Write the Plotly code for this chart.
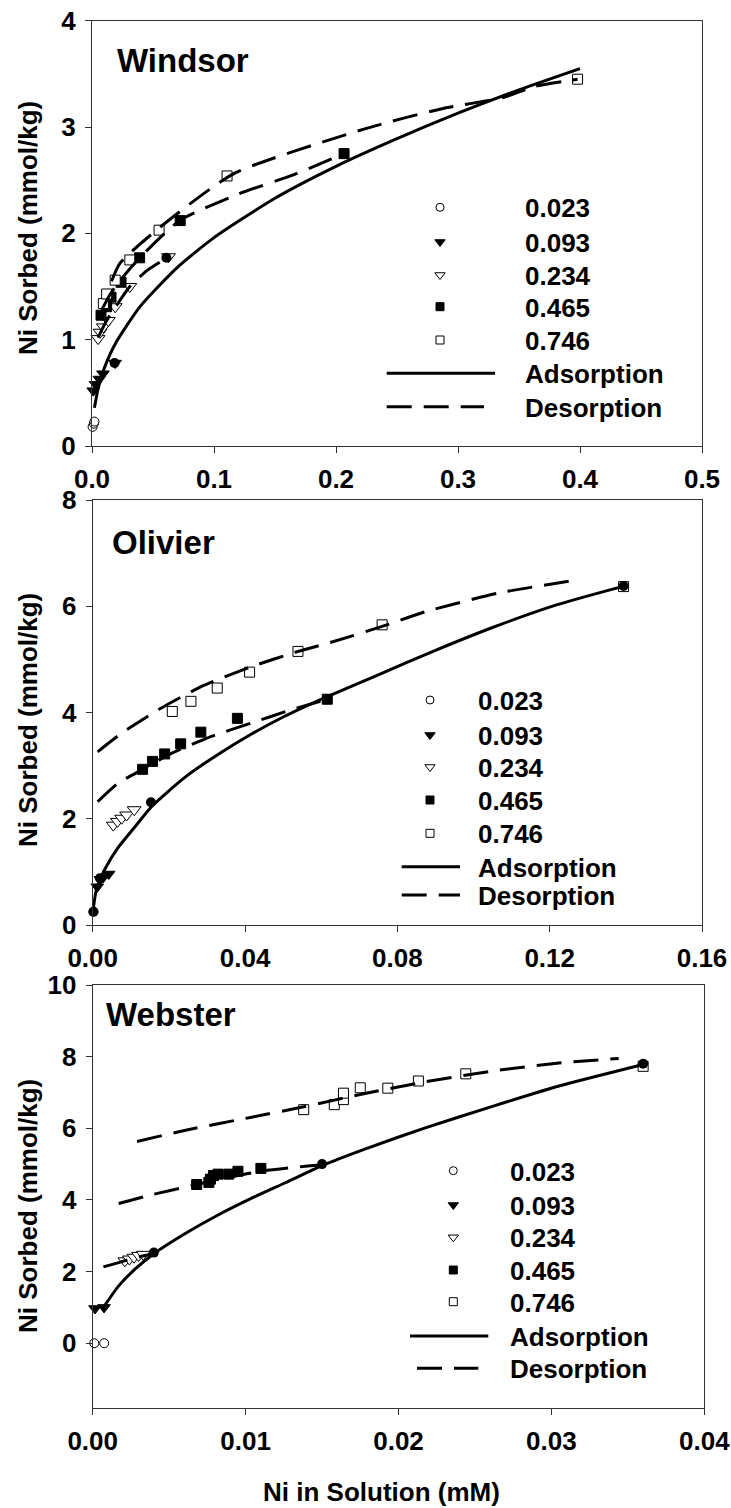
import plotly.graph_objects as go

W, H = 731, 1508
FONT = "Liberation Sans, Arial, Helvetica, sans-serif"

# Initial Ni concentrations shown in the key
levels = ["0.023", "0.093", "0.234", "0.465", "0.746"]

# ---------------- Windsor ----------------
windsor_x_023 = [0.0005, 0.0015, 0.002]
windsor_y_023 = [0.18, 0.21, 0.23]
windsor_x_093 = [0.001, 0.003, 0.006, 0.009, 0.019]
windsor_y_093 = [0.52, 0.58, 0.63, 0.68, 0.78]
windsor_x_234 = [0.005, 0.0066, 0.0093, 0.0134, 0.019, 0.031, 0.0627]
windsor_y_234 = [1.01, 1.07, 1.12, 1.18, 1.31, 1.50, 1.78]
windsor_x_465 = [0.0074, 0.012, 0.0156, 0.0238, 0.039, 0.0723, 0.2066]
windsor_y_465 = [1.23, 1.31, 1.40, 1.54, 1.77, 2.12, 2.75]
windsor_x_746 = [0.0093, 0.012, 0.019, 0.031, 0.055, 0.1107, 0.398]
windsor_y_746 = [1.34, 1.43, 1.56, 1.75, 2.03, 2.54, 3.45]
windsor_ads_pts_x = [0.0185, 0.061, 0.2066]
windsor_ads_pts_y = [0.78, 1.77, 2.75]
windsor_ads_x = [0.002, 0.005, 0.01, 0.02, 0.04, 0.07, 0.1, 0.15, 0.2, 0.25, 0.3, 0.35, 0.4]
windsor_ads_y = [0.36, 0.54, 0.73, 0.98, 1.32, 1.68, 1.96, 2.33, 2.63, 2.89, 3.13, 3.35, 3.55]
windsor_des746_x = [0.016, 0.023, 0.056, 0.116, 0.2257, 0.286, 0.3378, 0.362, 0.398]
windsor_des746_y = [1.55, 1.72, 2.06, 2.56, 2.99, 3.17, 3.28, 3.38, 3.45]
windsor_des465_x = [0.008, 0.015, 0.024, 0.04, 0.072, 0.12, 0.165, 0.2066]
windsor_des465_y = [1.28, 1.43, 1.57, 1.78, 2.12, 2.37, 2.55, 2.75]
windsor_des234_x = [0.005, 0.012, 0.02, 0.031, 0.045, 0.0627]
windsor_des234_y = [1.02, 1.18, 1.32, 1.50, 1.65, 1.78]

# ---------------- Olivier ----------------
olivier_x_023 = [0.0002]
olivier_y_023 = [0.25]
olivier_x_093 = [0.0012, 0.002, 0.0028, 0.0042]
olivier_y_093 = [0.72, 0.86, 0.90, 0.96]
olivier_x_234 = [0.0054, 0.0065, 0.0076, 0.0089, 0.0109]
olivier_y_234 = [1.88, 1.95, 2.01, 2.07, 2.17]
olivier_x_465 = [0.0131, 0.0157, 0.0189, 0.0231, 0.0284, 0.038, 0.0616]
olivier_y_465 = [2.93, 3.08, 3.22, 3.41, 3.63, 3.89, 4.25]
olivier_x_746 = [0.0209, 0.0258, 0.0327, 0.0412, 0.0539, 0.076, 0.1394]
olivier_y_746 = [4.02, 4.21, 4.46, 4.76, 5.15, 5.65, 6.37]
olivier_ads_pts_x = [0.0002, 0.0019, 0.0153, 0.0616, 0.1394]
olivier_ads_pts_y = [0.25, 0.88, 2.31, 4.25, 6.38]
olivier_ads_x = [0.0002, 0.001, 0.0032, 0.0067, 0.011, 0.0155, 0.0242, 0.0329, 0.0416,
                 0.0504, 0.0616, 0.075, 0.09, 0.105, 0.122, 0.139]
olivier_ads_y = [0.33, 0.68, 1.05, 1.46, 1.84, 2.23, 2.78, 3.21, 3.59,
                 3.93, 4.30, 4.71, 5.17, 5.60, 6.03, 6.37]
olivier_des746_x = [0.0013, 0.0076, 0.0172, 0.0286, 0.0416, 0.0539, 0.0635, 0.076, 0.0875, 0.1067, 0.1276]
olivier_des746_y = [3.26, 3.61, 4.05, 4.49, 4.86, 5.15, 5.34, 5.62, 5.90, 6.25, 6.50]
olivier_des465_x = [0.0013, 0.0067, 0.0131, 0.0207, 0.0312, 0.0416, 0.0521, 0.0616]
olivier_des465_y = [2.32, 2.67, 2.93, 3.23, 3.55, 3.80, 4.05, 4.25]

# ---------------- Webster ----------------
webster_x_023 = [0.0001, 0.00075]
webster_y_023 = [0.0, 0.0]
webster_x_093 = [0.00015, 0.00074]
webster_y_093 = [0.97, 1.0]
webster_x_234 = [0.0021, 0.0024, 0.0027, 0.003, 0.0033]
webster_y_234 = [2.30, 2.35, 2.40, 2.45, 2.48]
webster_x_465 = [0.0068, 0.0076, 0.0077, 0.0079, 0.0082, 0.0089, 0.0095, 0.011]
webster_y_465 = [4.43, 4.49, 4.58, 4.68, 4.72, 4.72, 4.80, 4.88]
webster_x_746 = [0.0138, 0.0158, 0.0164, 0.0164, 0.0175, 0.0193, 0.0213, 0.0244, 0.036]
webster_y_746 = [6.52, 6.66, 6.80, 6.98, 7.13, 7.12, 7.32, 7.52, 7.73]
webster_ads_pts_x = [0.004, 0.015, 0.036]
webster_ads_pts_y = [2.53, 5.0, 7.8]
webster_ads_x = [0.0007, 0.0017, 0.0028, 0.004, 0.006, 0.0082, 0.0104, 0.0126, 0.015,
                 0.0178, 0.0218, 0.0262, 0.0305, 0.036]
webster_ads_y = [1.0, 1.6, 2.08, 2.5, 3.05, 3.58, 4.05, 4.48, 4.96,
                 5.42, 6.02, 6.62, 7.18, 7.78]
webster_des746_x = [0.0029, 0.006, 0.0104, 0.0138, 0.0178, 0.0218, 0.0262, 0.0305, 0.0344]
webster_des746_y = [5.63, 5.94, 6.31, 6.60, 6.97, 7.30, 7.60, 7.82, 7.95]
webster_des465_x = [0.0017, 0.0039, 0.0068, 0.0095, 0.011, 0.0137, 0.0158]
webster_des465_y = [3.90, 4.15, 4.43, 4.68, 4.80, 4.93, 5.00]
webster_des234_x = [0.0007, 0.0017, 0.0028, 0.004]
webster_des234_y = [2.13, 2.25, 2.39, 2.50]

# Marker appearance for each concentration (plot size, key size)
marker_style = {
    "0.023": dict(symbol="circle", color="white", size=9, key=8),
    "0.093": dict(symbol="triangle-down", color="black", size=11, key=9),
    "0.234": dict(symbol="triangle-down", color="white", size=12, key=9),
    "0.465": dict(symbol="square", color="black", size=10, key=8),
    "0.746": dict(symbol="square", color="white", size=10, key=8),
}

panels = [
    dict(
        name="Windsor",
        box=(92, 20.7, 702, 446),
        xrange=[0, 0.5], xdtick=0.1, xfmt=".1f",
        yrange=[0, 4], yticks=[0, 1, 2, 3, 4],
        series={
            "0.023": (windsor_x_023, windsor_y_023),
            "0.093": (windsor_x_093, windsor_y_093),
            "0.234": (windsor_x_234, windsor_y_234),
            "0.465": (windsor_x_465, windsor_y_465),
            "0.746": (windsor_x_746, windsor_y_746),
        },
        ads_pts=(windsor_ads_pts_x, windsor_ads_pts_y),
        ads=(windsor_ads_x, windsor_ads_y),
        des=[(windsor_des746_x, windsor_des746_y),
             (windsor_des465_x, windsor_des465_y),
             (windsor_des234_x, windsor_des234_y)],
        title_pos=(115, 60),
        ytitle_y=228,
        key=dict(mx=440, tx=522.7, rows=[207.3, 242, 275, 306.7, 340, 373.3, 406.7],
                 solid=(386.7, 495), dash=(386.7, 484)),
    ),
    dict(
        name="Olivier",
        box=(92.7, 500, 702, 925),
        xrange=[0, 0.16], xdtick=0.04, xfmt=".2f",
        yrange=[0, 8], yticks=[0, 2, 4, 6, 8],
        series={
            "0.023": (olivier_x_023, olivier_y_023),
            "0.093": (olivier_x_093, olivier_y_093),
            "0.234": (olivier_x_234, olivier_y_234),
            "0.465": (olivier_x_465, olivier_y_465),
            "0.746": (olivier_x_746, olivier_y_746),
        },
        ads_pts=(olivier_ads_pts_x, olivier_ads_pts_y),
        ads=(olivier_ads_x, olivier_ads_y),
        des=[(olivier_des746_x, olivier_des746_y),
             (olivier_des465_x, olivier_des465_y)],
        title_pos=(110, 542),
        ytitle_y=720,
        key=dict(mx=430, tx=476, rows=[700, 735, 767, 800, 833.3, 866.7, 895],
                 solid=(401.7, 460), dash=(401.7, 460)),
    ),
    dict(
        name="Webster",
        box=(92.7, 985, 704.3, 1407.7),
        xrange=[0, 0.04], xdtick=0.01, xfmt=".2f",
        yrange=[-1.8, 10], yticks=[0, 2, 4, 6, 8, 10],
        series={
            "0.023": (webster_x_023, webster_y_023),
            "0.093": (webster_x_093, webster_y_093),
            "0.234": (webster_x_234, webster_y_234),
            "0.465": (webster_x_465, webster_y_465),
            "0.746": (webster_x_746, webster_y_746),
        },
        ads_pts=(webster_ads_pts_x, webster_ads_pts_y),
        ads=(webster_ads_x, webster_ads_y),
        des=[(webster_des746_x, webster_des746_y),
             (webster_des465_x, webster_des465_y),
             (webster_des234_x, webster_des234_y)],
        title_pos=(104, 1014),
        ytitle_y=1206,
        key=dict(mx=453.3, tx=508.3, rows=[1170.7, 1205, 1237.3, 1270, 1301.7, 1336, 1368.3],
                 solid=(410, 488.3), dash=(417, 478.3)),
    ),
]

DASH = "25px,12px"
AXIS_COLOR = "#333333"

fig = go.Figure()
layout = dict(
    width=W, height=H, autosize=False,
    margin=dict(l=0, r=0, t=0, b=0, pad=0, autoexpand=False),
    paper_bgcolor="white",
    plot_bgcolor="rgba(0,0,0,0)",
    showlegend=False,
    font=dict(family=FONT, size=26, color="black"),
)

annotations = []

for i, p in enumerate(panels, start=1):
    sfx = "" if i == 1 else str(i)
    xa, ya = "x" + sfx, "y" + sfx
    l, t, r, b = p["box"]
    layout["xaxis" + sfx] = dict(
        domain=[l / W, r / W], range=p["xrange"], anchor=ya, automargin=False,
        dtick=p["xdtick"], tick0=0, tickformat=p["xfmt"],
        showline=True, mirror=True, linecolor=AXIS_COLOR, linewidth=1,
        ticks="outside", ticklen=6, tickwidth=1, tickcolor=AXIS_COLOR,
        showgrid=False, zeroline=False,
        tickfont=dict(family=FONT, size=26, weight="bold", color="black"),
        ticklabelstandoff=4,
    )
    layout["yaxis" + sfx] = dict(
        domain=[1 - b / H, 1 - t / H], range=p["yrange"], anchor=xa, automargin=False,
        tickvals=p["yticks"],
        showline=True, mirror=True, linecolor=AXIS_COLOR, linewidth=1,
        ticks="outside", ticklen=6, tickwidth=1, tickcolor=AXIS_COLOR,
        showgrid=False, zeroline=False,
        tickfont=dict(family=FONT, size=26, weight="bold", color="black"),
        ticklabelstandoff=4,
    )

    # measured points for each concentration
    for lev in levels:
        xs, ys = p["series"][lev]
        st = marker_style[lev]
        fig.add_trace(go.Scatter(
            x=xs, y=ys, mode="markers", xaxis=xa, yaxis=ya, cliponaxis=False,
            name=f"{p['name']} {lev}",
            marker=dict(symbol=st["symbol"], size=st["size"], color=st["color"],
                        line=dict(color="black", width=1)),
        ))

    # fitted isotherms
    ax, ay = p["ads"]
    fig.add_trace(go.Scatter(x=ax, y=ay, mode="lines", xaxis=xa, yaxis=ya,
                             line=dict(color="black", width=3, shape="spline", smoothing=0.6),
                             name=f"{p['name']} adsorption"))
    for dx, dy in p["des"]:
        fig.add_trace(go.Scatter(x=dx, y=dy, mode="lines", xaxis=xa, yaxis=ya,
                                 line=dict(color="black", width=3, dash=DASH,
                                           shape="spline", smoothing=0.6),
                                 name=f"{p['name']} desorption"))

    # adsorption end points
    px, py = p["ads_pts"]
    fig.add_trace(go.Scatter(x=px, y=py, mode="markers", xaxis=xa, yaxis=ya, cliponaxis=False,
                             marker=dict(symbol="circle", size=10, color="black"),
                             name=f"{p['name']} adsorption points"))

    # panel label
    tx, ty = p["title_pos"]
    annotations.append(dict(x=tx, y=ty, xref="x4", yref="y4", text=p["name"],
                            showarrow=False, xanchor="left", yanchor="middle",
                            font=dict(family=FONT, size=33, weight="bold", color="black")))
    # y axis title
    annotations.append(dict(x=28, y=p["ytitle_y"], xref="x4", yref="y4",
                            text="Ni Sorbed (mmol/kg)", textangle=-90, showarrow=False,
                            xanchor="center", yanchor="middle",
                            font=dict(family=FONT, size=26, weight="bold", color="black")))

    # key
    k = p["key"]
    rows = k["rows"]
    for lev, ry in zip(levels, rows[:5]):
        st = marker_style[lev]
        fig.add_trace(go.Scatter(
            x=[k["mx"]], y=[ry], mode="markers", xaxis="x4", yaxis="y4", cliponaxis=False,
            marker=dict(symbol=st["symbol"], size=st["key"], color=st["color"],
                        line=dict(color="black", width=1)),
            name=f"key {lev}",
        ))
    fig.add_trace(go.Scatter(x=list(k["solid"]), y=[rows[5], rows[5]], mode="lines",
                             xaxis="x4", yaxis="y4", line=dict(color="black", width=3),
                             name="key adsorption"))
    fig.add_trace(go.Scatter(x=list(k["dash"]), y=[rows[6], rows[6]], mode="lines",
                             xaxis="x4", yaxis="y4",
                             line=dict(color="black", width=3, dash=DASH),
                             name="key desorption"))
    for label, ry in zip(levels + ["Adsorption", "Desorption"], rows):
        annotations.append(dict(x=k["tx"], y=ry + 1, xref="x4", yref="y4", text=label,
                                showarrow=False, xanchor="left", yanchor="middle",
                                font=dict(family=FONT, size=26, weight="bold", color="black")))

# x axis title
annotations.append(dict(x=381, y=1492, xref="x4", yref="y4", text="Ni in Solution (mM)",
                        showarrow=False, xanchor="center", yanchor="middle",
                        font=dict(family=FONT, size=26, weight="bold", color="black")))

# pixel-space overlay used for labels and the keys
layout["xaxis4"] = dict(domain=[0, 1], range=[0, W], visible=False, anchor="y4",
                        fixedrange=True, automargin=False)
layout["yaxis4"] = dict(domain=[0, 1], range=[H, 0], visible=False, anchor="x4",
                        fixedrange=True, automargin=False)
layout["annotations"] = annotations

fig.update_layout(**layout)
fig.write_html("out.html")
